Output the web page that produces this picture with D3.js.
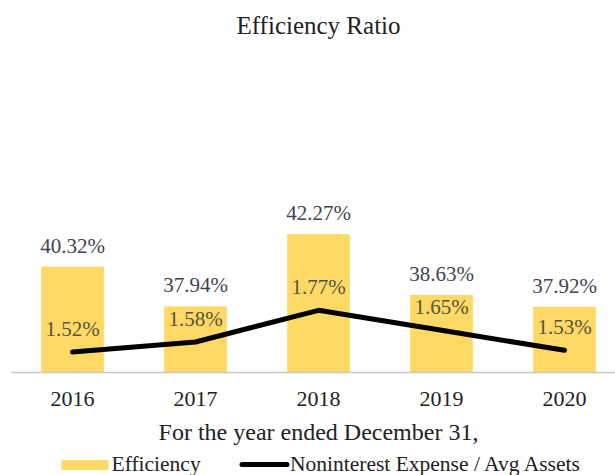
<!DOCTYPE html>
<html>
<head>
<meta charset="utf-8">
<script src="https://cdn.jsdelivr.net/npm/d3@7"></script>
<style>
  html, body { margin: 0; padding: 0; background: #fff; }
  svg { display: block; }
</style>
</head>
<body>
<svg id="chart" width="615" height="475"></svg>
<script>
const years = ["2016", "2017", "2018", "2019", "2020"];
const efficiency = [40.32, 37.94, 42.27, 38.63, 37.92];
const nonintExpense = [1.52, 1.58, 1.77, 1.65, 1.53];
const barDomain = [34, 46];
const lineDomain = [1.4, 2.6];
const titleText = "Efficiency Ratio";
const xTitleText = "For the year ended December 31,";
const legendLabels = ["Efficiency", "Noninterest Expense / Avg Assets"];

const FONT = "'Liberation Serif', 'Times New Roman', serif";
const svg = d3.select("#chart");
const barColor = "#FFD966";

const x = d3.scaleBand().domain(years).range([11, 626]).paddingInner(0.49).paddingOuter(0.245);
const yBar = d3.scaleLinear().domain(barDomain).range([372, 172]);
const yLine = d3.scaleLinear().domain(lineDomain).range([372, 172]);

// title
svg.append("text").attr("x", 318.5).attr("y", 34).attr("text-anchor", "middle")
  .style("font-family", FONT).attr("font-size", 25).attr("fill", "#222").text(titleText);

// bars
svg.append("g").selectAll("rect").data(efficiency).join("rect")
  .attr("x", (d, i) => x(years[i]))
  .attr("width", x.bandwidth())
  .attr("y", d => yBar(d))
  .attr("height", d => yBar(barDomain[0]) - yBar(d))
  .attr("fill", barColor);

// axis
const axis = svg.append("g").attr("transform", "translate(0,372)")
  .call(d3.axisBottom(x).tickSize(0).tickPadding(0))
  .attr("font-family", null);
axis.select(".domain").attr("stroke", "#c8c8c8").attr("stroke-width", 1.5);
axis.selectAll(".tick text").attr("font-size", 22).attr("fill", "#222")
  .style("font-family", FONT).attr("dy", 0).attr("y", 34);

// bar labels
svg.append("g").selectAll("text").data(efficiency).join("text")
  .attr("x", (d, i) => x(years[i]) + x.bandwidth() / 2)
  .attr("y", d => yBar(d) - 14)
  .attr("text-anchor", "middle").style("font-family", FONT).attr("font-size", 21).attr("fill", "#3f4450")
  .text(d => d.toFixed(2) + "%");

// line
const line = d3.line()
  .x((d, i) => x(years[i]) + x.bandwidth() / 2)
  .y(d => yLine(d));
svg.append("path").datum(nonintExpense).attr("d", line)
  .attr("fill", "none").attr("stroke", "#000").attr("stroke-width", 5)
  .attr("stroke-linecap", "round").attr("stroke-linejoin", "round");

// line labels
svg.append("g").selectAll("text").data(nonintExpense).join("text")
  .attr("x", (d, i) => x(years[i]) + x.bandwidth() / 2)
  .attr("y", d => yLine(d) - 16)
  .attr("text-anchor", "middle").style("font-family", FONT).attr("font-size", 21).attr("fill", "#57543c")
  .text(d => d.toFixed(2) + "%");

// x title
svg.append("text").attr("x", 318.5).attr("y", 440).attr("text-anchor", "middle")
  .style("font-family", FONT).attr("font-size", 24).attr("fill", "#222").text(xTitleText);

// legend
const lg = svg.append("g");
lg.append("rect").attr("x", 61.5).attr("y", 460).attr("width", 47).attr("height", 10).attr("fill", barColor);
lg.append("text").attr("x", 111.5).attr("y", 471).style("font-family", FONT).attr("font-size", 21.5).attr("fill", "#222").text(legendLabels[0]);
lg.append("line").attr("x1", 242).attr("x2", 287).attr("y1", 464.5).attr("y2", 464.5)
  .attr("stroke", "#000").attr("stroke-width", 5).attr("stroke-linecap", "round");
lg.append("text").attr("x", 290).attr("y", 471).style("font-family", FONT).attr("font-size", 21.5).attr("fill", "#222").text(legendLabels[1]);
</script>
</body>
</html>
